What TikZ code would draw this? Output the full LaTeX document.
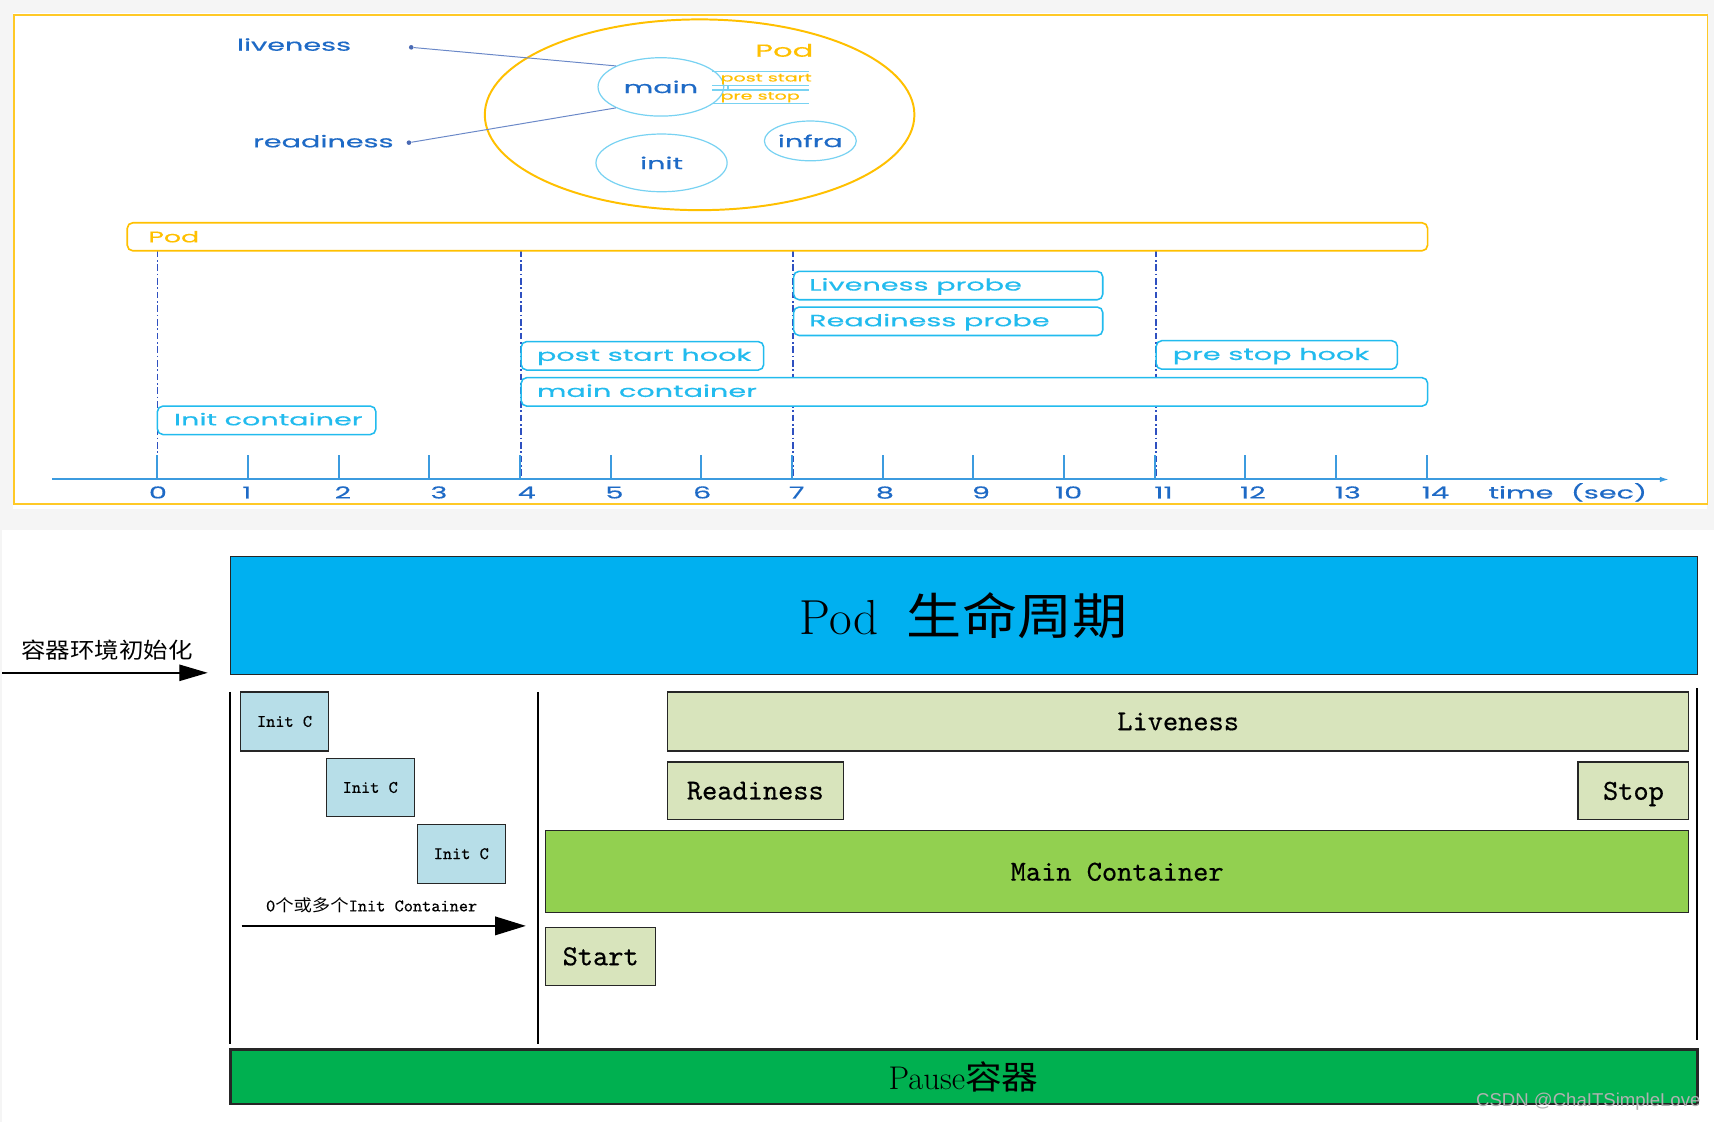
\documentclass[tikz,border=0pt]{standalone}
\usepackage{fontspec}
\usetikzlibrary{shapes.geometric,arrows.meta}
\newfontfamily\tf{Poppins}[FakeStretch=1.75,FakeBold=0.5]
\newfontfamily\cjk{Noto Sans CJK SC}
\newfontfamily\cjkw{Noto Sans CJK SC}[FakeStretch=1.12]
\newfontfamily\monob{lmmono10-regular.otf}[FakeBold=0.5]
\newfontfamily\wmfont{Liberation Sans}
\newcommand\setfs[1]{\fontsize{#1}{#1}\selectfont}
\definecolor{podor}{HTML}{FFC000}
\definecolor{dblue}{HTML}{1E6AC6}
\definecolor{cyanb}{HTML}{22BBEE}
\definecolor{lcyan}{HTML}{78D2F2}
\definecolor{connc}{HTML}{6A88C8}
\definecolor{conndot}{HTML}{4A6AB4}
\definecolor{axisb}{HTML}{3C9BDF}
\definecolor{dashb}{HTML}{2F50C0}
\definecolor{podblue}{HTML}{00B0F0}
\definecolor{pale}{HTML}{D8E4BC}
\definecolor{mgreen}{HTML}{92D050}
\definecolor{pgreen}{HTML}{00B050}
\definecolor{initc}{HTML}{B7DEE8}
\definecolor{bgout}{HTML}{F5F5F5}
\begin{document}
\begin{tikzpicture}[x=1pt,y=-1pt,
  toptxt/.style={inner sep=0, text=dblue, font={\tf\setfs{15}}},
  boxtxt/.style={inner sep=0, anchor=base west, text=cyanb, font={\tf\setfs{15}}},
  tbox/.style={draw=cyanb, line width=1.4, rounded corners=5, fill=white, inner sep=0, minimum height=26},
  circ/.style={ellipse, draw=lcyan, line width=1.1, inner sep=0, text=dblue, font={\tf\setfs{15}}},
  pdot/.style={circle, fill=conndot, inner sep=0, minimum size=4.2},
  conn/.style={draw=connc, line width=0.9},
  tk/.style={draw=axisb, line width=1.8},
  ddline/.style={draw=dashb, line width=1.6, dash pattern=on 6pt off 2.5pt on 1.5pt off 2.5pt},
  hookln/.style={draw=lcyan, line width=1},
  lbox/.style={draw=black!85, line width=1, inner sep=0},
  monotxt/.style={font={\monob\setfs{26.5}}},
  bigarr/.style={line width=1.3, -{Triangle[length=26pt,width=15pt]}},
]
\useasboundingbox (0,0) rectangle (1568,1026.4);
% backgrounds
\fill[bgout] (0,0) rectangle (1568,1026.4);
\fill[white] (12,12) rectangle (1562,466);
\fill[white] (2,485) rectangle (1568,1026.4);
\draw[podor!85, line width=1.6] (12.5,14) rectangle (1562,461);

% ---------- top: pod structure ----------
\node[ellipse, draw=podor, line width=1.8, minimum width=393, minimum height=174.5, inner sep=0] (podell) at (640,105) {};
\node[inner sep=0, anchor=base, text=podor, font={\tf\setfs{16}}] (podlbl) at (717.5,51.9) {Pod};
\node[circ, minimum width=115, minimum height=53.4] (main) at (604.6,79.5) {main};
\node[circ, minimum width=120, minimum height=52.8] (init) at (605.2,149) {init};
\node[circ, minimum width=83.2, minimum height=36.4] (infra) at (741.3,128.9) {infra};
% hook lines
\draw[hookln] (651.5,65.6) -- (739.7,65.6);
\draw[hookln] (651.5,77.8) -- (739.7,77.8);
\draw[hookln] (651.5,82.3) -- (739.7,82.3);
\draw[hookln] (651.5,94.5) -- (739.7,94.5);
\draw[hookln] (666,77.8) -- (666,82.3);
\node[inner sep=0, anchor=base west, text=podor, font={\tf\setfs{10}}] (pst) at (659,74.5) {post start};
\node[inner sep=0, anchor=base west, text=podor, font={\tf\setfs{10}}] (pstp) at (659,91.1) {pre stop};
% probes
\node[toptxt, anchor=base] (livt) at (269,46.4) {liveness};
\node[toptxt, anchor=base] (readt) at (295.8,134.8) {readiness};
\node[pdot] (ldot) at (376.2,43.3) {};
\node[pdot] (rdot) at (374.1,130.5) {};
\draw[conn] (ldot) -- (main.155);
\draw[conn] (rdot) -- (main.205);

% ---------- top: timeline ----------
\foreach \xx in {144,476.8,725.5,1057.2}
  \draw[ddline] (\xx,229.4) -- (\xx,438);
\coordinate (axs) at (47.6,438.6);
\coordinate (axe) at (1527.5,438.6);
\draw[axisb, line width=1.8, -{Latex[length=9pt,width=5pt]}] (axs) -- (axe);
\foreach \i in {0,...,14}
  \draw[tk] (144+82.93*\i,416.4) -- (144+82.93*\i,438.6);
\foreach \i/\lx in {0/144.5,1/225.8,2/313.7,3/401.5,4/481.8,5/562.1,6/642.4,7/728.8,8/809.5,9/897.4,10/977.6,11/1064.4,12/1146.2,13/1233,14/1313.2}
  \node[toptxt, anchor=base] (n\i) at (\lx,456) {\i};
\node[toptxt, anchor=base west] (timet) at (1361.5,456) {time\hspace{16pt}(sec)};

\node[tbox, draw=podor, line width=1.5, minimum width=1189.5, minimum height=25.6] (podbar) at (711.2,216.6) {};
\node[boxtxt, text=podor, font={\tf\setfs{14}}] (podbart) at (135.6,221.7) {Pod};
\node[tbox, minimum width=282.8] (lprobe) at (867.4,261.2) {};
\node[boxtxt] (lprobet) at (740,265.8) {Liveness probe};
\node[tbox, minimum width=282.8] (rprobe) at (867.4,293.9) {};
\node[boxtxt] (rprobet) at (740,298.5) {Readiness probe};
\node[tbox, minimum width=221.9] (psh) at (587.7,325.5) {};
\node[boxtxt] (psht) at (491,330.1) {post start hook};
\node[tbox, minimum width=220.6] (prh) at (1168,324.7) {};
\node[boxtxt] (prht) at (1072.7,329.3) {pre stop hook};
\node[tbox, minimum width=829.2] (mcb) at (891.4,358.5) {};
\node[boxtxt] (mcbt) at (491,363.1) {main container};
\node[tbox, minimum width=199.8] (icb) at (243.9,384.5) {};
\node[boxtxt] (icbt) at (159,389.1) {Init container};

% ---------- bottom ----------
\node[lbox, fill=podblue, line width=0.9, minimum width=1342, minimum height=107.6, font={\setfs{45}}] (life) at (881.5,563.2) {Pod\hspace{26pt}{\cjkw 生命周期}};
\node[inner sep=0, font={\cjkw\setfs{20}}] (envt) at (98,595) {容器环境初始化};
\coordinate (ea) at (2,615.5);
\coordinate (eb) at (190,615.5);
\draw[bigarr] (ea) -- (eb);

\draw[line width=1.2] (210.5,633) -- (210.5,954.6);
\draw[line width=1.2] (492.3,633) -- (492.3,954.6);
\draw[line width=1.2] (1552.5,629.8) -- (1552.5,951.6);

\node[lbox, fill=initc, minimum width=80.9, minimum height=54, font={\monob\setfs{16}}] (ic1) at (260.3,660) {Init C};
\node[lbox, fill=initc, minimum width=80.6, minimum height=53.2, font={\monob\setfs{16}}] (ic2) at (338.7,720.4) {Init C};
\node[lbox, fill=initc, minimum width=80.7, minimum height=54, font={\monob\setfs{16}}] (ic3) at (422,781) {Init C};
\node[inner sep=0] (cnt) at (340,828) {{\monob\setfs{16}0}{\cjkw\setfs{15}个或多个}{\monob\setfs{16}Init Container}};
\coordinate (ca) at (221,847);
\coordinate (cb) at (481,847);
\draw[line width=1.3, -{Triangle[length=28pt,width=17pt]}] (ca) -- (cb);

\node[lbox, fill=pale, monotxt, minimum width=934.4, minimum height=54] (liv) at (1077.8,660) {Liveness};
\node[lbox, fill=pale, monotxt, minimum width=160.9, minimum height=52.7] (rdy) at (691,723.4) {Readiness};
\node[lbox, fill=pale, monotxt, minimum width=101.4, minimum height=52.7] (stp) at (1494.3,723.4) {\raisebox{0pt}[\height][0pt]{Stop}};
\node[lbox, fill=mgreen, monotxt, minimum width=1046, minimum height=75] (mcn) at (1022,797.5) {Main Container};
\node[lbox, fill=pale, monotxt, minimum width=101, minimum height=52.8] (strt) at (549.5,874.9) {Start};
\node[lbox, fill=pgreen, line width=2.6, minimum width=1342, minimum height=50, font={\setfs{30}}] (pause) at (881.5,985) {Pause{\cjkw 容器}};
\node[inner sep=0, text=gray!60, font={\wmfont\setfs{17}}] (wm) at (1453,1008) {CSDN @ChaITSimpleLove};
\end{tikzpicture}
\end{document}
